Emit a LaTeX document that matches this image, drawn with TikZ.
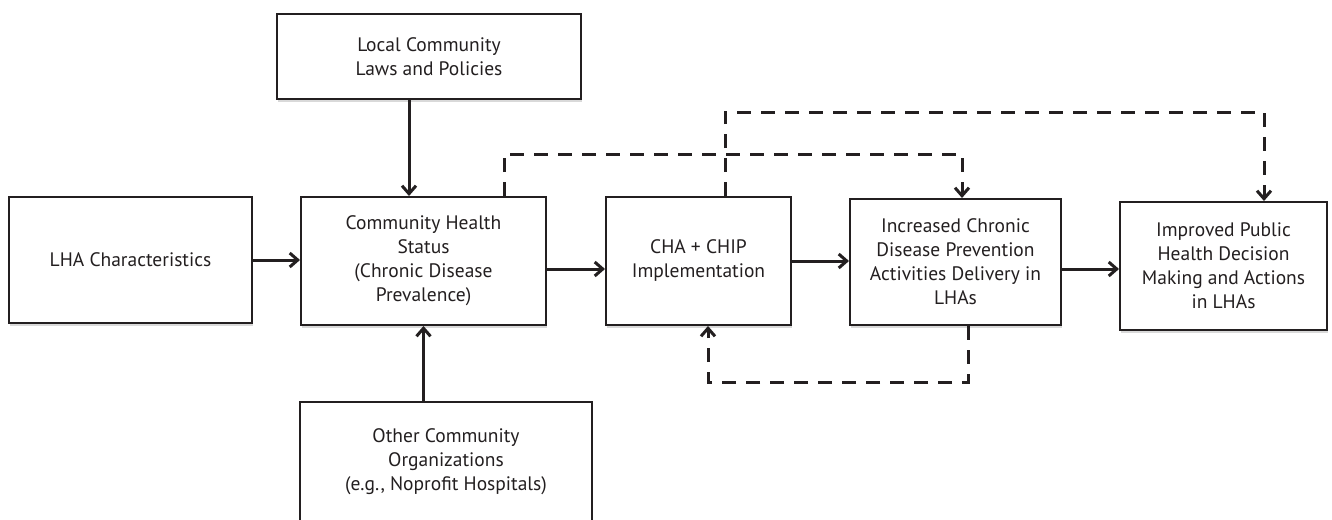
\documentclass[tikz,border=0pt]{standalone}
\usepackage{fontspec}
\setmainfont{PT Sans}
\usetikzlibrary{arrows.meta,shadows}
\definecolor{ink}{HTML}{231F20}
\begin{document}
\begin{tikzpicture}[x=1pt,y=-1pt,
  box/.style={draw=ink, line width=2pt, fill=white, align=center,
    font=\fontsize{19.5}{24}\selectfont, text=ink, inner sep=0pt,
    drop shadow={shadow xshift=0.6pt, shadow yshift=-2.5pt, fill=black!15, opacity=1}},
  conn/.style={draw=ink, line width=3pt, -{Straight Barb[length=8pt,width=14pt]}},
  dconn/.style={conn, dash pattern=on 14pt off 10pt},
]
\useasboundingbox[fill=white] (0,0) rectangle (1332,519);

\node[box, minimum width=304pt, minimum height=85pt] (local) at (429,56.5)
  {Local Community\\Laws and Policies};
\node[box, minimum width=243pt, minimum height=126pt] (lha) at (130.5,260)
  {LHA Characteristics};
\node[box, minimum width=245pt, minimum height=128pt] (chs) at (423.5,261)
  {Community Health\\Status\\(Chronic Disease\\Prevalence)};
\node[box, minimum width=185pt, minimum height=128pt] (cha) at (698.5,261)
  {CHA + CHIP\\Implementation};
\node[box, minimum width=211pt, minimum height=126pt] (inc) at (955.5,262)
  {Increased Chronic\\Disease Prevention\\Activities Delivery in\\LHAs};
\node[box, minimum width=207pt, minimum height=128pt] (imp) at (1223.5,266)
  {Improved Public\\Health Decision\\Making and Actions\\in LHAs};
\node[box, minimum width=292pt, minimum height=119pt] (other) at (446,461.5)
  {Other Community\\Organizations\\(e.g., Noprofit Hospitals)};

% solid connectors
\draw[conn] ([xshift=-20pt]local.south) -- ([xshift=-20pt]local.south |- chs.north);
\draw[conn] (lha.east) -- (lha.east -| chs.west);
\draw[conn] (chs.north |- other.north) -- (chs.south);
\draw[conn] ([yshift=-8pt]chs.east) -- ([yshift=-8pt]chs.east -| cha.west);
\draw[conn] (cha.east) -- (cha.east -| inc.west);
\draw[conn] ([yshift=-7pt]inc.east) -- ([yshift=-7pt]inc.east -| imp.west);

% dashed feedback connectors
\draw[dconn] ([xshift=80.5pt]chs.north) -- ++(0,-42) -| ([xshift=6.5pt]inc.north);
\draw[dconn] ([xshift=26.5pt]cha.north) -- ++(0,-84) -| ([xshift=40.5pt]imp.north);
\draw[dconn] ([xshift=12.5pt]inc.south) -- ++(0,56) -| ([xshift=9.5pt]cha.south);
\end{tikzpicture}
\end{document}
